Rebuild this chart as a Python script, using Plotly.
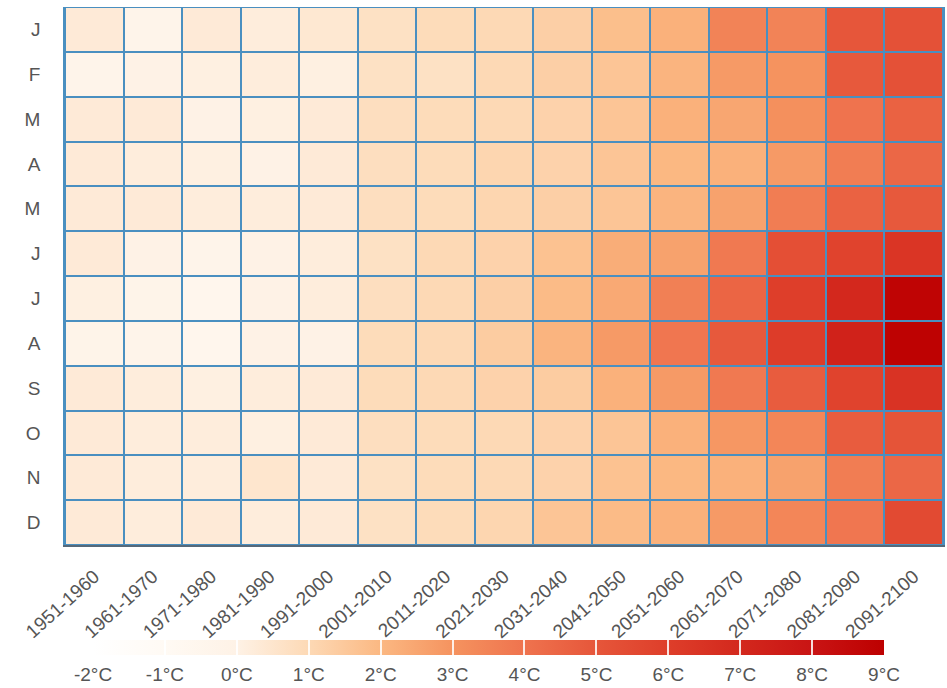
import plotly.graph_objects as go

# Decades along the x axis, months down the y axis
decades = ["1951-1960", "1961-1970", "1971-1980", "1981-1990", "1991-2000",
           "2001-2010", "2011-2020", "2021-2030", "2031-2040", "2041-2050",
           "2051-2060", "2061-2070", "2071-2080", "2081-2090", "2091-2100"]
month_labels = ["J", "F", "M", "A", "M", "J", "J", "A", "S", "O", "N", "D"]

# Temperature anomaly (°C) per month, one value per decade
jan = [0.3, -0.3, 0.3, 0.2, 0.4, 0.7, 0.9, 1.0, 1.3, 1.8, 2.2, 3.5, 3.5, 5.0, 5.2]
feb = [-0.3, 0.0, 0.1, 0.2, 0.1, 0.7, 0.7, 1.0, 1.3, 1.6, 2.1, 2.8, 3.0, 4.9, 5.2]
mar = [0.3, 0.3, 0.0, 0.1, 0.3, 0.8, 0.9, 1.0, 1.2, 1.6, 2.2, 2.5, 3.1, 4.0, 4.6]
apr = [0.3, 0.2, 0.1, 0.0, 0.3, 0.8, 0.9, 1.1, 1.2, 1.6, 2.0, 2.2, 2.8, 3.7, 4.4]
may = [0.3, 0.3, 0.2, 0.2, 0.3, 0.8, 0.9, 1.1, 1.3, 1.6, 2.1, 2.6, 3.7, 4.6, 4.9]
jun = [0.3, 0.0, -0.3, 0.0, 0.2, 0.7, 1.0, 1.2, 1.7, 2.3, 2.6, 3.8, 5.3, 5.8, 6.4]
jul = [0.1, -0.2, -0.5, 0.0, 0.2, 0.8, 1.0, 1.3, 1.9, 2.4, 3.6, 4.5, 6.0, 7.0, 8.8]
aug = [-0.2, -0.3, -0.5, 0.0, 0.0, 0.9, 1.0, 1.4, 2.1, 2.8, 3.9, 4.9, 6.1, 7.3, 8.9]
sep = [0.3, 0.2, 0.1, 0.2, 0.3, 0.9, 1.0, 1.2, 1.4, 2.2, 2.8, 3.8, 4.8, 5.8, 6.5]
oct_ = [0.3, 0.2, 0.2, 0.1, 0.3, 0.8, 0.9, 1.0, 1.2, 1.6, 2.2, 2.9, 3.4, 4.8, 5.1]
nov = [0.3, 0.2, 0.2, 0.5, 0.3, 0.7, 0.9, 1.0, 1.2, 1.7, 2.0, 2.2, 2.6, 3.7, 4.4]
dec = [0.3, 0.2, 0.3, 0.2, 0.3, 0.7, 0.9, 1.1, 1.6, 1.9, 2.2, 2.8, 3.4, 3.9, 5.5]

# Colour-bar ticks
scale_ticks = [-2, -1, 0, 1, 2, 3, 4, 5, 6, 7, 8, 9]
scale_labels = ["-2°C", "-1°C", "0°C", "1°C", "2°C", "3°C",
                "4°C", "5°C", "6°C", "7°C", "8°C", "9°C"]

z = [jan, feb, mar, apr, may, jun, jul, aug, sep, oct_, nov, dec]
rows = list(range(len(month_labels)))

zmin, zmax = scale_ticks[0], scale_ticks[-1]
stop_colors = ["#ffffff", "#fffaf4", "#fef2e6", "#fdd9b5", "#fbb882", "#f5935f",
               "#ef734e", "#e6563a", "#de3e2a", "#d3281d", "#c91414", "#bd0000"]
colorscale = [[(v - zmin) / (zmax - zmin), c] for v, c in zip(scale_ticks, stop_colors)]

text_color = "#555555"
font_family = "Liberation Sans, Arial, sans-serif"

# Horizontal colour bar below the grid
cb_common = dict(
    orientation="h", x=0.4824, xanchor="center", lenmode="pixels", len=791,
    thickness=15, y=-0.1766, yanchor="top", ypad=0, xpad=0,
    outlinewidth=0, tickvals=scale_ticks,
)

fig = go.Figure()
fig.add_trace(go.Heatmap(
    x=decades, y=rows, z=z,
    colorscale=colorscale, zmin=zmin, zmax=zmax,
    xgap=2, ygap=2,
    hovertemplate="%{x}<br>%{z}°C<extra></extra>",
    colorbar=dict(
        **cb_common, ticktext=scale_labels,
        ticks="outside", ticklen=4, tickcolor="rgba(0,0,0,0)",
        tickfont=dict(size=19, color=text_color, family=font_family),
    ),
))
# Transparent copy of the grid whose colour bar draws thin white
# separators at each whole degree on top of the scale
fig.add_trace(go.Heatmap(
    x=decades, y=rows, z=z, opacity=0, hoverinfo="skip",
    colorscale=colorscale, zmin=zmin, zmax=zmax,
    xgap=2, ygap=2,
    colorbar=dict(
        **cb_common, ticks="inside", ticklen=15, tickwidth=2,
        tickcolor="rgba(255,255,255,0.85)", showticklabels=False,
    ),
))

grid_color = "#4a8fc0"
fig.update_layout(
    width=947, height=688,
    margin=dict(l=65, r=2, t=7, b=143),
    paper_bgcolor="white", plot_bgcolor=grid_color,
    font=dict(family=font_family, color=text_color, size=19),
    xaxis=dict(
        type="category", tickangle=-42, showgrid=False, zeroline=False,
        showline=True, linecolor="#56697a", linewidth=2,
        ticks="", ticklabelstandoff=11,
        tickfont=dict(size=19, color=text_color),
    ),
    yaxis=dict(
        tickvals=rows, ticktext=month_labels, autorange="reversed",
        showgrid=False, zeroline=False,
        showline=True, linecolor=grid_color, linewidth=1.5, mirror=True,
        ticks="", ticklabelstandoff=19,
        tickfont=dict(size=19, color=text_color),
    ),
)

fig.write_html("out.html")
